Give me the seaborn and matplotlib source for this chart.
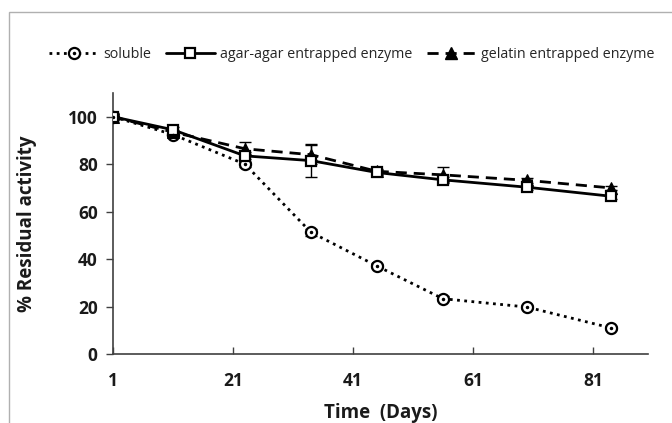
import matplotlib
matplotlib.use("Agg")
import matplotlib.pyplot as plt
import seaborn as sns
import numpy as np
import pandas as pd
from matplotlib.lines import Line2D
from matplotlib.patches import Rectangle

days = [1, 11, 23, 34, 45, 56, 70, 84]
soluble = [100, 92.5, 80, 51.3, 37.1, 23.3, 19.8, 11.0]
agar = [100, 94.5, 83.5, 81.5, 76.5, 73.4, 70.3, 66.5]
gelatin = [100, 93.5, 86.5, 84.0, 77.0, 75.5, 73.2, 70.0]
soluble_err = [1.0, 1.0, 1.0, 1.5, 1.0, 1.0, 1.0, 1.0]
agar_err = [1.5, 1.0, 1.5, 7.0, 1.0, 1.0, 1.0, 1.0]
gelatin_err = [1.0, 1.0, 3.0, 4.0, 1.0, 3.5, 1.0, 1.0]
labels = ["soluble", "agar-agar entrapped enzyme", "gelatin entrapped enzyme"]
x_ticks = [1, 21, 41, 61, 81]
y_ticks = [0, 20, 40, 60, 80, 100]

sns.set_theme(style="white")
plt.rcParams["font.family"] = ["Open Sans", "DejaVu Sans"]

fig = plt.figure(figsize=(6.72, 4.23), dpi=100)
fig.patch.set_facecolor("white")
ax = fig.add_axes([113/672, 1-354/423, (648-113)/672, (354-93)/423])

# frame border of original figure
fig.add_artist(Rectangle((9/672, -0.1), 1.2, (423-12)/423 + 0.1, transform=fig.transFigure,
                         fill=False, edgecolor="#b0b0b0", linewidth=1.0))

df = pd.DataFrame({"day": days, "soluble": soluble, "agar": agar, "gelatin": gelatin})

lw = 2.0
# soluble
sns.lineplot(data=df, x="day", y="soluble", ax=ax, color="black", linewidth=lw,
             linestyle=(0, (1, 1.6)), marker="o", markersize=8, markerfacecolor="white",
             markeredgecolor="black", markeredgewidth=1.6, zorder=3)
ax.plot(days, soluble, linestyle="none", marker=".", markersize=3, color="black", zorder=4)
ax.errorbar(days, soluble, yerr=soluble_err, fmt="none", ecolor="black", elinewidth=1, capsize=4, zorder=2)
# gelatin
sns.lineplot(data=df, x="day", y="gelatin", ax=ax, color="black", linewidth=lw,
             linestyle=(0, (4, 2.5)), marker="^", markersize=8, markerfacecolor="black",
             markeredgecolor="black", zorder=3)
ax.errorbar(days, gelatin, yerr=gelatin_err, fmt="none", ecolor="black", elinewidth=1, capsize=4, zorder=2)
# agar
sns.lineplot(data=df, x="day", y="agar", ax=ax, color="black", linewidth=lw,
             linestyle="-", marker="s", markersize=7, markerfacecolor="white",
             markeredgecolor="black", markeredgewidth=1.6, zorder=3)
ax.errorbar(days, agar, yerr=agar_err, fmt="none", ecolor="black", elinewidth=1, capsize=4, zorder=2)

ax.set_xlim(1, 90.2)
ax.set_ylim(0, 110)
ax.set_xticks(x_ticks)
ax.set_yticks(y_ticks)
for s in ["top", "right"]:
    ax.spines[s].set_visible(False)
for s in ["left", "bottom"]:
    ax.spines[s].set_color("#404040")
    ax.spines[s].set_linewidth(1.2)
ax.tick_params(axis="x", direction="in", length=5, width=1, color="#404040", pad=13)
ax.tick_params(axis="y", direction="out", length=5, width=1, color="#404040", pad=6, left=True)
ax.tick_params(axis="x", bottom=True)
for lab in ax.get_xticklabels() + ax.get_yticklabels():
    lab.set_fontsize(12.5)
    lab.set_fontweight("bold")
    lab.set_color("#1a1a1a")
ax.set_xlabel("Time  (Days)", fontsize=13.5, fontweight="bold", color="#1a1a1a", labelpad=9)
ax.set_ylabel("% Residual activity", fontsize=13.5, fontweight="bold", color="#1a1a1a", labelpad=22)
ax.grid(False)

h1 = (Line2D([], [], color="black", linewidth=lw, linestyle=(0, (1, 1.6)), marker="o",
             markersize=8, markerfacecolor="white", markeredgewidth=1.6),
      Line2D([], [], linestyle="none", marker=".", markersize=3, color="black"))
h2 = Line2D([], [], color="black", linewidth=lw, linestyle="-", marker="s", markersize=7,
            markerfacecolor="white", markeredgewidth=1.6)
h3 = Line2D([], [], color="black", linewidth=lw, linestyle=(0, (4, 2.5)), marker="^", markersize=8,
            markerfacecolor="black")
fig.legend([h1, h2, h3], labels, loc="center", bbox_to_anchor=(352/672, 1-55/423), ncol=3,
           frameon=False, fontsize=10.3, handlelength=3.4, columnspacing=1.0, handletextpad=0.4)

fig.savefig("out.png", dpi=100)
